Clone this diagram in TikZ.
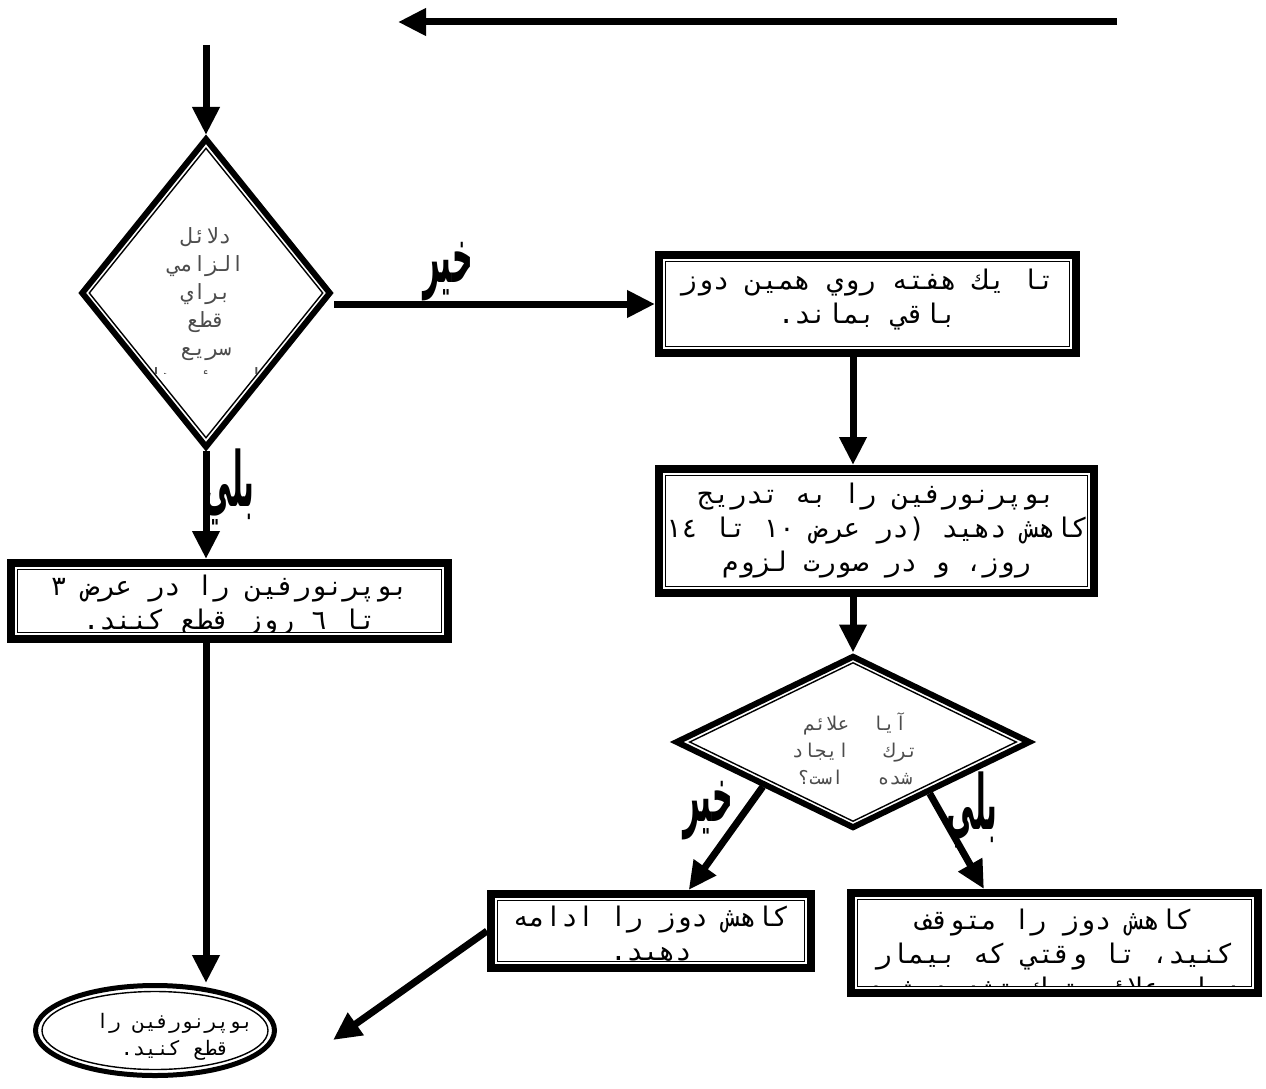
\documentclass[tikz,border=0pt]{standalone}
\usepackage{fontspec}
\usetikzlibrary{arrows.meta, calc, shapes.geometric, positioning}
\TeXXeTstate=1
\newfontfamily\farsimono[Script=Arabic]{DejaVu Sans Mono}
\newfontfamily\farsibold[Script=Arabic]{DejaVu Sans}
\newcommand{\FlowTip}{Triangle[length=28pt, width=26pt]}
\newcommand{\FlowLine}{7pt}
\newcommand{\rl}[1]{\beginR #1\endR}
\newcommand{\Answer}[1]{\scalebox{0.62}[1.65]{\beginR #1\endR}}

\begin{document}
\begin{tikzpicture}[
	x=1pt, y=-1pt,
	flow/.style={
		line width=\FlowLine,
		-{\FlowTip}
	},
	frame/.style={
		draw,
		fill=white,
		line width=8pt,
		inner sep=0
	},
	panel/.style={
		draw,
		line width=1.4pt,
		inner sep=0
	},
	boxtext/.style={
		font=\farsimono\fontsize{27}{34}\selectfont,
		align=center,
		inner sep=0
	},
	asktext/.style={
		font=\farsimono\fontsize{21}{28}\selectfont,
		text=black!70,
		align=center,
		inner sep=0
	},
	answer/.style={
		font=\farsibold\bfseries\fontsize{46}{46}\selectfont,
		inner sep=0
	}
]
	\useasboundingbox (0,0) rectangle (1266,1089);

	\coordinate (loop start) at (1117,22);
	\coordinate (loop end) at (398,22);
	\coordinate (entry) at (206,45);
	\coordinate (stop side) at (333,1040);

	\foreach \name/\x/\y/\w/\h in {hold/867.5/304/425/106, taper/876.5/531/443/132, quick/229.5/601/445/84, goon/651/931/328/82, halt/1054.5/943/415/108} {
		\node[frame, minimum width=\w-8, minimum height=\h-8] (\name) at (\x,\y) {};
		\node[panel, minimum width=\w-21.5, minimum height=\h-21.5] (in \name) at (\name) {};
	};

	\node[frame, diamond, line width=6pt, minimum width=250, minimum height=310] (urgent) at (206,293) {};
	\node[panel, diamond, minimum width=234, minimum height=290] (in urgent) at (urgent) {};
	\node[frame, diamond, line width=6pt, minimum width=355, minimum height=173] (withdraw) at (853,742) {};
	\node[panel, diamond, minimum width=327, minimum height=159] (in withdraw) at (withdraw) {};
	\node[frame, ellipse, line width=5pt, minimum width=239, minimum height=90] (stop) at (155,1030.5) {};
	\node[panel, ellipse, minimum width=226, minimum height=78] (in stop) at (stop) {};

	\begin{scope}
		\clip (in hold.south west) rectangle (in hold.north east);
		\node[boxtext] (hold text) at ($(hold)+(0,-4)$) {\rl{تا يك هفته روي همين دوز}\\\rl{باقي بماند.}};
	\end{scope}
	\begin{scope}
		\clip (in taper.south west) rectangle (in taper.north east);
		\node[boxtext] (taper text) at (taper) {\rl{بوپرنورفين را به تدريج}\\\rl{كاهش دهيد (در عرض ١٠ تا ١٤}\\\rl{روز، و در صورت لزوم}};
	\end{scope}
	\begin{scope}
		\clip (in quick.south west) rectangle (in quick.north east);
		\node[boxtext] (quick text) at ($(quick)+(0,5)$) {\rl{بوپرنورفين را در عرض ٣}\\\rl{تا ٦ روز قطع كنند.}};
	\end{scope}
	\begin{scope}
		\clip (in goon.south west) rectangle (in goon.north east);
		\node[boxtext] (goon text) at ($(goon)+(0,4)$) {\rl{كاهش دوز را~ادامه}\\\rl{دهيد.}};
	\end{scope}
	\begin{scope}
		\clip (in halt.south west) rectangle (in halt.north east);
		\node[boxtext] (halt text) at ($(halt)+(0,14)$) {\rl{كاهش دوز را متوقف}\\\rl{كنيد، تا وقتي كه بيمار}\\\rl{دچار علائم ترك تشديد شود}};
	\end{scope}
	\begin{scope}
		\clip ($(in urgent.north)+(-100,0)$) rectangle ($(in urgent.center)+(100,80)$);
		\node[asktext] (urgent text) at ($(urgent)+(0,15)$) {\rl{دلائل}\\\rl{الزامي}\\\rl{براي}\\\rl{قطع}\\\rl{سريع}\\\rl{اپيوئيدها}};
	\end{scope}
	\node[asktext, font=\farsimono\fontsize{19}{27}\selectfont] (withdraw text) at ($(withdraw)+(2,7)$) {\rl{آيا~~علائم}\\\rl{ترك~~~ايجاد}\\\rl{شده~~~است؟}};
	\node[boxtext, font=\farsimono\fontsize{20}{27}\selectfont] (stop text) at ($(stop)+(20,6)$) {\rl{بوپرنورفين را}\\\rl{قطع كنيد.}};

	\node[answer] (no a) at (448,272) {\Answer{خير}};
	\node[answer] (yes a) at (229,487) {\Answer{بلي}};
	\node[answer] (no b) at (708,811) {\Answer{خير}};
	\node[answer] (yes b) at (972,810) {\Answer{بلي}};

	\draw[flow] (loop start) -- (loop end);
	\draw[flow] (entry) -- (urgent.north);
	\draw[flow] (urgent.east |- hold.west) -- (hold.west);
	\draw[flow] (hold.south -| withdraw.north) -- (taper.north -| withdraw.north);
	\draw[flow] (taper.south -| withdraw.north) -- (withdraw.north);
	\draw[flow] (urgent.south) -- (quick.north -| urgent.south);
	\draw[flow] (quick.south -| urgent.south) -- (stop.north -| urgent.south);
	\draw[flow] (withdraw.south west) -- ($(goon.north)!0.23!(goon.north east)$);
	\draw[flow] ($(withdraw.south east)!0.15!(withdraw.south)$) -- ($(halt.north)!0.34!(halt.north west)$);
	\draw[flow] (goon.west) -- (stop side);
\end{tikzpicture}
\end{document}
